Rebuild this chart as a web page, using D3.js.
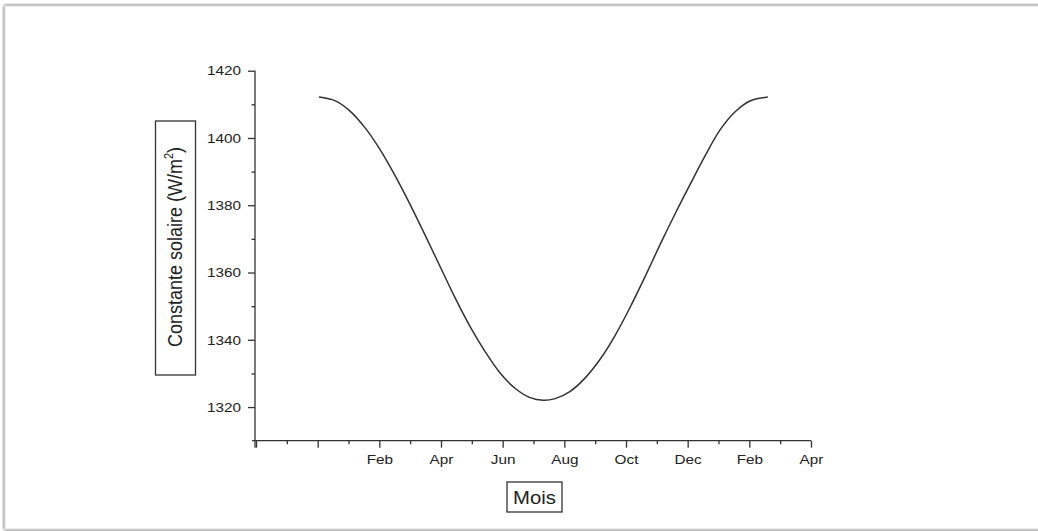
<!DOCTYPE html>
<html>
<head>
<meta charset="utf-8">
<script src="https://cdn.jsdelivr.net/npm/d3@7"></script>
<style>
  html, body { margin: 0; padding: 0; background: #fff; }
  svg { display: block; }
  text { font-family: Arial, "Liberation Sans", sans-serif; fill: #222; }
</style>
</head>
<body>
<svg id="chart" width="1038" height="531"></svg>
<script>
// ---- data ----
const monthPos = [2.04, 2.56, 3.05, 3.54, 4.02, 4.51, 5.00, 5.48, 5.97, 6.45, 6.94, 7.43, 7.91, 8.40, 8.89, 9.31,
                  9.70, 10.18, 10.67, 11.16, 11.64, 12.13, 12.62, 13.10, 13.59, 14.08, 14.56, 15.05, 15.54, 16.02, 16.60];
const solarConst = [1412.2, 1411.1, 1408.0, 1403.0, 1396.6, 1388.8, 1380.2, 1371.2, 1361.8, 1352.6, 1344, 1336.5, 1330.2, 1325.6, 1322.8, 1322,
                    1322.5, 1324.6, 1328.6, 1334.2, 1341.2, 1349.6, 1358.8, 1368.2, 1377.4, 1386.2, 1394.6, 1402.4, 1407.8, 1411.0, 1412.2];
const xTickValues = [0, 2, 4, 6, 8, 10, 12, 14, 16, 18];
const xTickLabels = ["", "", "Feb", "Apr", "Jun", "Aug", "Oct", "Dec", "Feb", "Apr"];
const xMinorTicks = [1, 3, 5, 7, 9, 11, 13, 15, 17];
const yTickValues = [1320, 1340, 1360, 1380, 1400, 1420];
const yMinorTicks = [1330, 1350, 1370, 1390, 1410];
const xTitle = "Mois";
const yTitle = "Constante solaire (W/m";

// ---- drawing ----
const svg = d3.select("#chart");
const STRETCH = 1.16;

// page frame with soft shadow
const defs = svg.append("defs");
const f = defs.append("filter").attr("id", "shadow").attr("x", "-5%").attr("y", "-5%").attr("width", "110%").attr("height", "110%");
f.append("feGaussianBlur").attr("in", "SourceAlpha").attr("stdDeviation", 1.5).attr("result", "b");
const fm = f.append("feMerge");
fm.append("feMergeNode").attr("in", "b");
fm.append("feMergeNode").attr("in", "SourceGraphic");
svg.append("rect").attr("x", 5).attr("y", 6).attr("width", 1060).attr("height", 523)
  .attr("fill", "#fff").attr("stroke", "#dcdcdc").attr("stroke-width", 1).attr("filter", "url(#shadow)");

const x = d3.scaleLinear().domain([0, 18]).range([256, 811]);
const y = d3.scaleLinear().domain([1310, 1420]).range([440.7, 70.7]);

const axisColor = "#333";

// X axis
const gx = svg.append("g").attr("transform", `translate(0,${y(1310)})`);
gx.call(d3.axisBottom(x).tickValues(xTickValues).tickSize(7).tickPadding(7)
  .tickFormat((d, i) => xTickLabels[i]));
gx.append("g").call(d3.axisBottom(x).tickValues(xMinorTicks).tickSize(3.5).tickFormat(""))
  .select(".domain").remove();
gx.select(".domain").attr("d", `M${x(0) - 4},0H${x(18)}`);

// Y axis
const gy = svg.append("g").attr("transform", `translate(${x(0) - 1},0)`);
gy.call(d3.axisLeft(y).tickValues(yTickValues).tickSize(7).tickPadding(7).tickFormat(d3.format("d")));
gy.append("g").call(d3.axisLeft(y).tickValues(yMinorTicks).tickSize(3.5).tickFormat(""))
  .select(".domain").remove();
gy.select(".domain").attr("d", `M0,${y(1420)}V${y(1310) + 7}`);

[gx, gy].forEach(g => {
  g.selectAll("path, line").attr("stroke", axisColor).attr("stroke-width", 1.3);
  g.selectAll("text").attr("font-size", 13.2).attr("fill", "#222")
    .attr("font-family", "Arial, 'Liberation Sans', sans-serif");
});
// horizontal stretch of tick labels
gy.selectAll(".tick text").each(function () {
  const t = d3.select(this);
  const tx = +t.attr("x");
  t.attr("x", 0).attr("transform", `translate(${tx},0) scale(${STRETCH},1)`);
});
gx.selectAll(".tick text").attr("transform", `scale(${STRETCH},1)`);

// curve
const line = d3.line().x((d, i) => x(monthPos[i])).y(d => y(d)).curve(d3.curveCatmullRom.alpha(0.5));
svg.append("path").datum(solarConst).attr("d", line)
  .attr("fill", "none").attr("stroke", "#333").attr("stroke-width", 1.5);

// Y title in box
svg.append("rect").attr("x", 155.5).attr("y", 121).attr("width", 40).attr("height", 254)
  .attr("fill", "none").attr("stroke", "#333").attr("stroke-width", 1.3);
const yt = svg.append("text")
  .attr("transform", `translate(182,247) scale(${STRETCH},1) rotate(-90)`)
  .attr("text-anchor", "middle").attr("font-size", 18);
yt.append("tspan").text(yTitle);
yt.append("tspan").attr("font-size", 11).attr("dy", -8).text("2");
yt.append("tspan").attr("dy", 8).text(")");

// X title in box
svg.append("rect").attr("x", 507).attr("y", 482).attr("width", 55).attr("height", 30)
  .attr("fill", "none").attr("stroke", "#333").attr("stroke-width", 1.3);
svg.append("text").attr("transform", `translate(534.5,503.5) scale(${STRETCH},1)`)
  .attr("text-anchor", "middle").attr("font-size", 17.5).text(xTitle);
</script>
</body>
</html>
